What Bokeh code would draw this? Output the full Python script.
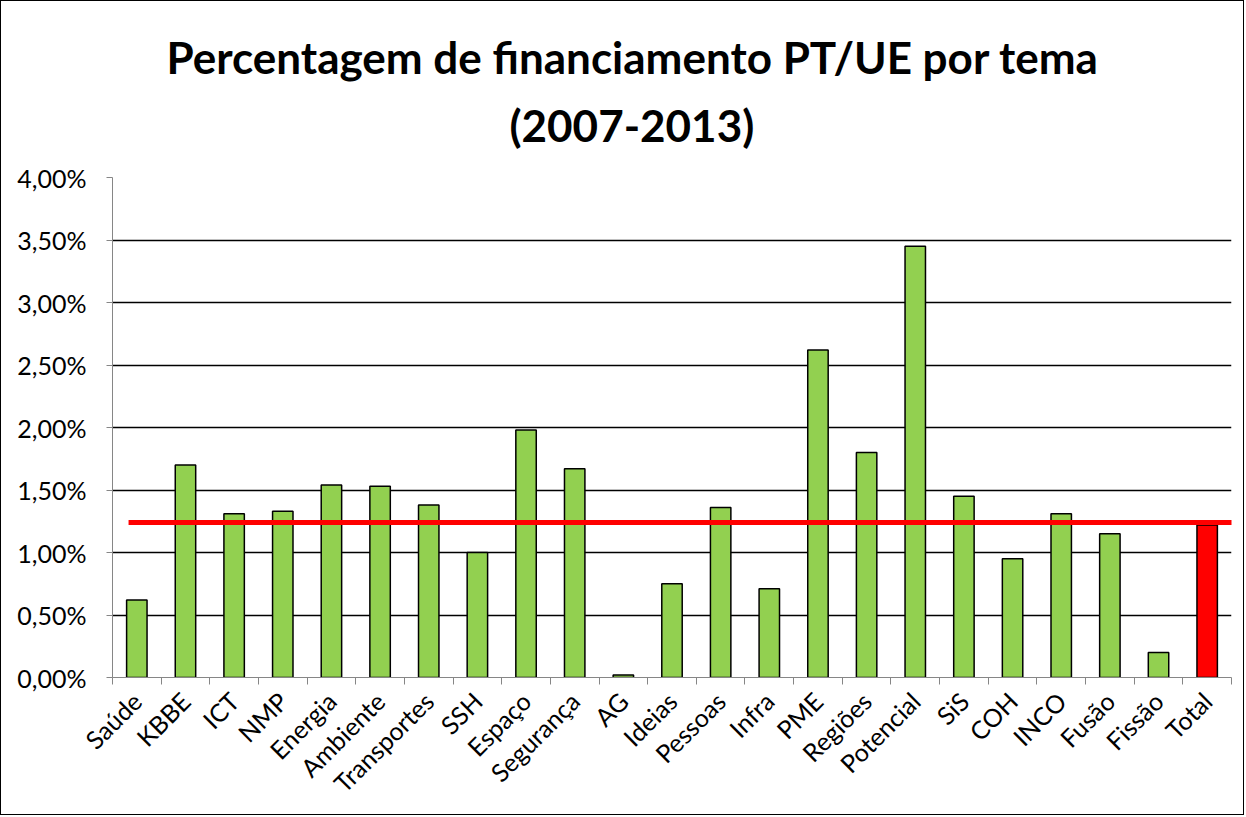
import math
from bokeh.plotting import figure
from bokeh.models import Range1d, FixedTicker, CustomJSTickFormatter, Title, ColumnDataSource
from bokeh.embed import file_html
from bokeh.resources import INLINE

# ---- data ----
temas = ["Saúde", "KBBE", "ICT", "NMP", "Energia", "Ambiente", "Transportes", "SSH",
         "Espaço", "Segurança", "AG", "Ideias", "Pessoas", "Infra", "PME", "Regiões",
         "Potencial", "SiS", "COH", "INCO", "Fusão", "Fissão", "Total"]
percentagem = [0.62, 1.70, 1.31, 1.33, 1.54, 1.53, 1.38, 1.00,
               1.98, 1.67, 0.02, 0.75, 1.36, 0.71, 2.62, 1.80,
               3.45, 1.45, 0.95, 1.31, 1.15, 0.20, 1.22]
media_ref = 1.24
y_ticks = [0.0, 0.5, 1.0, 1.5, 2.0, 2.5, 3.0, 3.5, 4.0]
titulo_1 = "Percentagem de financiamento PT/UE por tema"
titulo_2 = "(2007-2013)"

FONT = "Lato"
n = len(temas)
xs = [i + 0.5 for i in range(n)]
colors = ["#92D050"] * (n - 1) + ["#FF0000"]
src = ColumnDataSource(dict(x=xs, top=percentagem, color=colors, tema=temas))

p = figure(width=1244, height=815, output_backend="svg", toolbar_location=None,
           x_range=Range1d(0, n), y_range=Range1d(0, 4.0),
           min_border_left=111, min_border_right=14, min_border_top=176, min_border_bottom=139)
p.title.visible = False
p.styles = {"border": "1.5px solid black"}
p.outline_line_color = None
p.background_fill_color = "white"
p.border_fill_color = "white"

# grid
p.xgrid.grid_line_color = None
p.ygrid.ticker = FixedTicker(ticks=y_ticks[1:])
p.ygrid.grid_line_color = "black"
p.ygrid.grid_line_width = 1.3

# bars
p.vbar(x="x", top="top", width=0.42, bottom=0, fill_color="color",
       line_color="black", line_width=1.5, source=src)

# reference line
p.segment(x0=[0.33], x1=[n + 0.5], y0=[media_ref], y1=[media_ref],
          line_color="#FF0000", line_width=5)

# y axis
yax = p.yaxis[0]
yax.ticker = FixedTicker(ticks=y_ticks)
yax.formatter = CustomJSTickFormatter(code="return tick.toFixed(2).replace('.', ',') + '%';")
yax.axis_line_color = "#868686"
yax.major_tick_line_color = "#868686"
yax.major_tick_out = 6
yax.major_tick_in = 0
yax.minor_tick_line_color = None
yax.major_label_text_font = FONT
yax.major_label_text_font_size = "25px"
yax.major_label_text_color = "black"
yax.major_label_standoff = 20

# x axis
xax = p.xaxis[0]
xax.ticker = FixedTicker(ticks=xs, minor_ticks=list(range(n + 1)))
xax.major_label_overrides = {x: t for x, t in zip(xs, temas)}
xax.major_label_orientation = math.pi / 4
xax.major_tick_line_color = None
xax.minor_tick_line_color = "#868686"
xax.minor_tick_out = 7
xax.minor_tick_in = 0
xax.axis_line_color = "#868686"
xax.major_label_text_font = FONT
xax.major_label_text_font_size = "25px"
xax.major_label_text_color = "black"
xax.major_label_standoff = 12

# title: second line first (closest to the frame)
t2 = Title(text=titulo_2, align="left", offset=397, text_font=FONT, text_font_style="bold",
           text_font_size="44px", text_color="black", standoff=54)
t1 = Title(text=titulo_1, align="left", offset=54, text_font=FONT, text_font_style="bold",
           text_font_size="44px", text_color="black", standoff=-27)
p.add_layout(t2, "above")
p.add_layout(t1, "above")

open("out.html", "w").write(file_html(p, INLINE))
